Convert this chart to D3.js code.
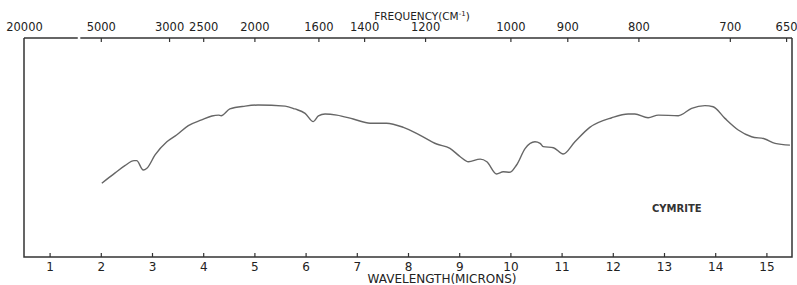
<!DOCTYPE html>
<html lang="en">
  <head>
    <meta charset="utf-8">
    <title>Cymrite - infrared spectrum</title>
    <script src="https://d3js.org/d3.v7.min.js"></script>
    <style type="text/css">
        body {
          margin: 0;
          background: #fff;
        }

        .chart {
          background: #fff;
        }

        .axis text {
          font: 11.5px "DejaVu Sans", sans-serif;
          fill: #222;
        }

        .axis.bottom text {
          font-size: 12px;
        }

        .axis line {
          stroke: #333;
          stroke-width: 1.2px;
        }

        .frame {
          stroke: #333;
          stroke-width: 1.5px;
          fill: none;
        }

        .spectrum {
          fill: none;
          stroke: #666;
          stroke-width: 1.4px;
        }

        .axis-title {
          font: 10.5px "DejaVu Sans", sans-serif;
          fill: #222;
        }

        .mineral-label {
          font: bold 10px "DejaVu Sans", sans-serif;
          fill: #333;
        }
    </style>
  </head>
  <body>

    <div class="chart" id="chart"></div>

    <script>

        // wavelength in microns, transmittance in %
        var wavelength = [2.02, 2.28, 2.47, 2.65, 2.70, 2.83, 2.90, 3.06, 3.29, 3.48,
                          3.71, 3.97, 4.17, 4.30, 4.35, 4.52, 4.82, 5.07, 5.60, 5.79,
                          5.99, 6.15, 6.25, 6.38, 6.61, 6.93, 7.26, 7.58, 7.91, 8.23,
                          8.56, 8.82, 9.02, 9.18, 9.41, 9.54, 9.73, 9.86, 9.99, 10.12,
                          10.29, 10.48, 10.58, 10.64, 10.84, 11.03, 11.26, 11.55, 11.98, 12.30,
                          12.43, 12.69, 12.89, 13.28, 13.54, 13.80, 13.96, 14.19, 14.45, 14.71,
                          14.97, 15.17, 15.46];
        var transmittance = [33.7, 38.4, 41.7, 44.0, 44.0, 39.7, 40.5, 46.6, 52.6, 55.7,
                             60.0, 62.6, 64.4, 64.8, 64.5, 67.6, 68.9, 69.4, 68.9, 67.6,
                             65.6, 61.8, 64.4, 65.3, 64.8, 63.0, 61.1, 61.1, 59.2, 55.7,
                             51.6, 49.6, 45.8, 43.5, 44.7, 43.5, 37.9, 38.9, 38.7, 42.0,
                             49.6, 52.6, 51.9, 50.4, 49.9, 47.0, 52.6, 59.2, 63.6, 65.3,
                             65.3, 63.6, 64.8, 64.5, 67.9, 69.1, 68.6, 63.3, 58.0, 54.9,
                             53.9, 51.9, 51.1];

        var wavelengthTicks = [1, 2, 3, 4, 5, 6, 7, 8, 9, 10, 11, 12, 13, 14, 15];
        var frequencyTicks = [20000, 5000, 3000, 2500, 2000, 1600, 1400, 1200, 1000, 900, 800, 700, 650];

        var mineral = "CYMRITE";

        var margin = {top: 38, right: 5, bottom: 28, left: 24};
        var width = 797 - margin.left - margin.right;
        var height = 285 - margin.top - margin.bottom;

        var svg = d3.select(".chart").append("svg")
                    .attr("width", width + margin.left + margin.right)
                    .attr("height", height + margin.top + margin.bottom),
            g = svg.append("g").attr("transform", "translate(" + margin.left + "," + margin.top + ")");

        var x = d3.scaleLinear().domain([0.5, 15.5]).range([0, width]);
        var y = d3.scaleLinear().domain([0, 100]).range([height, 0]);

        // bottom: wavelength
        var xAxis = g.append("g")
            .attr("class", "axis bottom")
            .attr("transform", "translate(0," + height + ")")
            .call(d3.axisBottom(x).tickValues(wavelengthTicks).tickSize(-4).tickPadding(5).tickFormat(d3.format("d")));
        xAxis.select(".domain").remove();

        // top: frequency, cm-1 = 10000 / microns
        var fAxis = g.append("g")
            .attr("class", "axis top")
            .call(d3.axisTop(x).tickValues(frequencyTicks.map(function(f) { return 10000 / f; }))
                .tickSize(-4).tickPadding(7)
                .tickFormat(function(d) { return Math.round(10000 / d); }));
        fAxis.select(".domain").remove();
        fAxis.selectAll(".tick").filter(function(d, i) { return i === 0; }).select("line").remove();

        // frame, with the break in the top scale
        var breakFrom = 1.55, breakTo = 1.6;
        g.append("line").attr("class", "frame")
            .attr("x1", 0).attr("x2", x(breakFrom)).attr("y1", 0).attr("y2", 0);
        g.append("line").attr("class", "frame")
            .attr("x1", x(breakTo)).attr("x2", width).attr("y1", 0).attr("y2", 0);
        g.append("path").attr("class", "frame")
            .attr("d", "M0,0V" + height + "H" + width + "V0");

        var data = wavelength.map(function(w, i) { return {w: w, t: transmittance[i]}; });

        var line = d3.line()
            .x(function(d) { return x(d.w); })
            .y(function(d) { return y(d.t); })
            .curve(d3.curveMonotoneX);

        g.append("path")
            .datum(data)
            .attr("class", "spectrum")
            .attr("d", line);

        var ft = g.append("text")
            .attr("class", "axis-title")
            .attr("x", 398)
            .attr("y", -18)
            .attr("text-anchor", "middle");
        ft.append("tspan").text("FREQUENCY(CM");
        ft.append("tspan").attr("dy", -4).style("font-size", "7px").text("-1");
        ft.append("tspan").attr("dy", 4).text(")");

        g.append("text")
            .attr("class", "axis-title")
            .attr("x", 418)
            .attr("y", height + 25.5)
            .attr("text-anchor", "middle")
            .style("font-size", "12px")
            .text("WAVELENGTH(MICRONS)");

        g.append("text")
            .attr("class", "mineral-label")
            .attr("x", x(13.25))
            .attr("y", y(20.5))
            .attr("text-anchor", "middle")
            .text(mineral);

    </script>
  </body>
</html>
